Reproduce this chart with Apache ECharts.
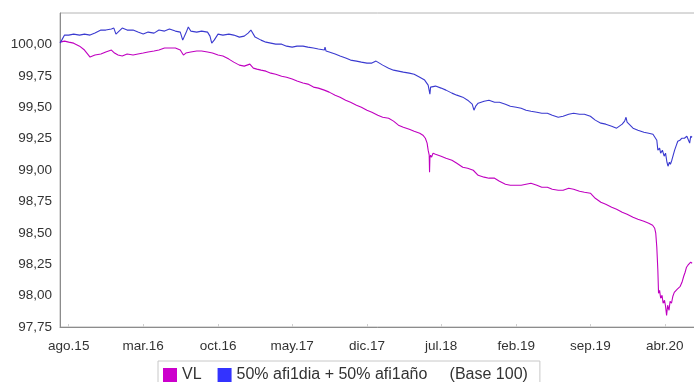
<!DOCTYPE html>
<html>
<head>
<meta charset="utf-8">
<title>VL vs 50% afi1dia + 50% afi1año</title>
<script src="https://cdn.jsdelivr.net/npm/echarts@6/dist/echarts.min.js"></script>
<style>
  html, body { margin: 0; padding: 0; background: #fff; }
  #chart { width: 694px; height: 382px; }
</style>
</head>
<body>
<div id="chart"></div>
<script>
// Net asset value of the fund (base 100)
const vlSeries = [
  ['2015-07-07',100.018],['2015-07-20',100.026],['2015-08-01',100.018],['2015-08-15',100.010],
  ['2015-09-01',99.986],['2015-09-15',99.955],['2015-10-01',99.899],['2015-10-15',99.915],
  ['2015-11-01',99.923],['2015-11-15',99.939],['2015-12-01',99.955],['2015-12-10',99.931],
  ['2015-12-20',99.915],['2016-01-01',99.907],['2016-01-15',99.923],['2016-02-01',99.915],
  ['2016-02-15',99.923],['2016-03-01',99.931],['2016-03-15',99.939],['2016-04-01',99.947],
  ['2016-04-15',99.955],['2016-05-01',99.971],['2016-05-15',99.971],['2016-06-01',99.971],
  ['2016-06-15',99.955],['2016-06-24',99.915],['2016-07-01',99.931],['2016-07-15',99.939],
  ['2016-08-01',99.947],['2016-08-15',99.947],['2016-09-01',99.939],['2016-09-15',99.931],
  ['2016-10-01',99.915],['2016-10-15',99.907],['2016-11-01',99.883],['2016-11-15',99.859],
  ['2016-12-01',99.835],['2016-12-15',99.827],['2016-12-31',99.843],['2017-01-10',99.811],
  ['2017-01-20',99.803],['2017-02-01',99.795],['2017-02-15',99.787],['2017-03-01',99.771],
  ['2017-03-15',99.763],['2017-04-01',99.747],['2017-04-15',99.739],['2017-05-01',99.724],
  ['2017-05-15',99.708],['2017-06-01',99.692],['2017-06-15',99.684],['2017-07-01',99.660],
  ['2017-07-15',99.652],['2017-08-01',99.636],['2017-08-15',99.620],['2017-09-01',99.596],
  ['2017-09-15',99.580],['2017-10-01',99.556],['2017-10-15',99.540],['2017-11-01',99.516],
  ['2017-11-15',99.500],['2017-12-01',99.476],['2017-12-15',99.460],['2018-01-01',99.436],
  ['2018-01-15',99.420],['2018-02-01',99.412],['2018-02-15',99.389],['2018-03-01',99.357],
  ['2018-03-15',99.341],['2018-04-01',99.325],['2018-04-15',99.309],['2018-05-01',99.293],
  ['2018-05-10',99.277],['2018-05-17',99.253],['2018-05-22',99.214],['2018-05-25',99.158],
  ['2018-05-28',99.118],['2018-05-29',98.982],['2018-05-30',99.094],['2018-06-01',99.118],
  ['2018-06-04',99.102],['2018-06-08',99.134],['2018-06-15',99.126],['2018-07-01',99.110],
  ['2018-07-15',99.094],['2018-08-01',99.078],['2018-08-15',99.054],['2018-09-01',99.022],
  ['2018-09-15',99.014],['2018-10-01',98.998],['2018-10-15',98.958],['2018-11-01',98.943],
  ['2018-11-15',98.935],['2018-12-01',98.935],['2018-12-15',98.911],['2019-01-01',98.887],
  ['2019-01-15',98.879],['2019-02-01',98.879],['2019-02-15',98.879],['2019-03-01',98.887],
  ['2019-03-15',98.895],['2019-04-01',98.879],['2019-04-15',98.863],['2019-05-01',98.863],
  ['2019-05-15',98.847],['2019-06-01',98.839],['2019-06-15',98.839],['2019-07-01',98.855],
  ['2019-07-15',98.847],['2019-08-01',98.831],['2019-08-15',98.823],['2019-09-01',98.815],
  ['2019-09-15',98.775],['2019-10-01',98.743],['2019-10-15',98.727],['2019-11-01',98.704],
  ['2019-11-15',98.688],['2019-12-01',98.664],['2019-12-15',98.648],['2020-01-01',98.624],
  ['2020-01-15',98.608],['2020-02-01',98.592],['2020-02-15',98.576],['2020-02-26',98.560],
  ['2020-03-03',98.536],['2020-03-06',98.497],['2020-03-09',98.385],['2020-03-12',98.202],
  ['2020-03-14',98.018],['2020-03-17',98.042],['2020-03-20',97.979],['2020-03-24',98.002],
  ['2020-03-27',97.939],['2020-03-31',97.963],['2020-04-03',97.915],['2020-04-06',97.843],
  ['2020-04-09',97.923],['2020-04-13',97.883],['2020-04-16',97.955],['2020-04-20',97.939],
  ['2020-04-24',97.995],['2020-04-28',98.026],['2020-05-02',98.018],['2020-05-06',98.050],
  ['2020-05-11',98.042],['2020-05-15',98.074],['2020-05-20',98.106],['2020-05-25',98.154],
  ['2020-05-29',98.186],['2020-06-02',98.226],['2020-06-06',98.242],['2020-06-10',98.250],
  ['2020-06-14',98.266],['2020-06-18',98.258]
];

// Benchmark: 50% afi1dia + 50% afi1año (base 100)
const benchSeries = [
  ['2015-07-07',100.010],['2015-07-12',100.034],['2015-07-20',100.074],['2015-08-01',100.074],
  ['2015-08-15',100.082],['2015-09-01',100.074],['2015-09-15',100.082],['2015-10-01',100.074],
  ['2015-10-15',100.090],['2015-11-01',100.114],['2015-11-15',100.114],['2015-12-01',100.122],
  ['2015-12-08',100.130],['2015-12-14',100.082],['2015-12-18',100.074],['2016-01-01',100.130],
  ['2016-01-15',100.114],['2016-02-01',100.114],['2016-02-15',100.098],['2016-03-01',100.082],
  ['2016-03-15',100.098],['2016-04-01',100.090],['2016-04-15',100.114],['2016-05-01',100.106],
  ['2016-05-15',100.122],['2016-06-01',100.106],['2016-06-15',100.098],['2016-06-22',100.034],
  ['2016-07-01',100.090],['2016-07-08',100.138],['2016-07-15',100.106],['2016-08-01',100.098],
  ['2016-08-15',100.106],['2016-09-01',100.098],['2016-09-08',100.066],['2016-09-13',100.010],
  ['2016-09-20',100.034],['2016-10-01',100.082],['2016-10-15',100.074],['2016-11-01',100.082],
  ['2016-11-15',100.074],['2016-12-01',100.058],['2016-12-15',100.066],['2016-12-26',100.090],
  ['2017-01-03',100.114],['2017-01-15',100.058],['2017-02-01',100.034],['2017-02-15',100.018],
  ['2017-03-01',100.010],['2017-03-15',100.002],['2017-04-01',100.002],['2017-04-15',99.986],
  ['2017-05-01',99.978],['2017-05-15',99.986],['2017-06-01',99.986],['2017-06-15',99.978],
  ['2017-07-01',99.971],['2017-07-15',99.963],['2017-08-01',99.955],['2017-08-03',99.978],
  ['2017-08-06',99.947],['2017-08-15',99.939],['2017-09-01',99.923],['2017-09-15',99.907],
  ['2017-10-01',99.891],['2017-10-15',99.875],['2017-11-01',99.867],['2017-11-15',99.859],
  ['2017-12-01',99.851],['2017-12-15',99.851],['2017-12-27',99.867],['2018-01-01',99.875],
  ['2018-01-15',99.835],['2018-02-01',99.811],['2018-02-15',99.795],['2018-03-01',99.787],
  ['2018-03-15',99.779],['2018-04-01',99.771],['2018-04-15',99.763],['2018-05-01',99.739],
  ['2018-05-15',99.716],['2018-05-25',99.676],['2018-05-30',99.604],['2018-06-01',99.660],
  ['2018-06-15',99.668],['2018-07-01',99.652],['2018-07-15',99.636],['2018-08-01',99.612],
  ['2018-08-15',99.596],['2018-09-01',99.580],['2018-09-15',99.556],['2018-09-28',99.524],
  ['2018-10-03',99.476],['2018-10-08',99.508],['2018-10-15',99.532],['2018-11-01',99.548],
  ['2018-11-15',99.556],['2018-12-01',99.540],['2018-12-15',99.540],['2019-01-01',99.524],
  ['2019-01-15',99.508],['2019-02-01',99.500],['2019-02-15',99.492],['2019-03-01',99.476],
  ['2019-03-15',99.468],['2019-04-01',99.460],['2019-04-15',99.452],['2019-05-01',99.452],
  ['2019-05-15',99.436],['2019-06-01',99.420],['2019-06-15',99.428],['2019-07-01',99.444],
  ['2019-07-15',99.452],['2019-08-01',99.444],['2019-08-15',99.444],['2019-09-01',99.428],
  ['2019-09-15',99.397],['2019-10-01',99.373],['2019-10-15',99.365],['2019-11-01',99.349],
  ['2019-11-15',99.333],['2019-12-01',99.365],['2019-12-08',99.389],['2019-12-12',99.420],
  ['2019-12-15',99.381],['2020-01-01',99.333],['2020-01-15',99.317],['2020-02-01',99.301],
  ['2020-02-15',99.293],['2020-02-27',99.285],['2020-03-03',99.277],['2020-03-09',99.237],
  ['2020-03-12',99.158],['2020-03-17',99.174],['2020-03-20',99.134],['2020-03-25',99.158],
  ['2020-03-30',99.110],['2020-04-03',99.134],['2020-04-07',99.062],['2020-04-10',99.030],
  ['2020-04-14',99.062],['2020-04-17',99.046],['2020-04-21',99.078],['2020-04-25',99.118],
  ['2020-04-29',99.158],['2020-05-04',99.198],['2020-05-08',99.229],['2020-05-14',99.237],
  ['2020-05-20',99.253],['2020-05-27',99.253],['2020-06-03',99.269],['2020-06-08',99.261],
  ['2020-06-11',99.214],['2020-06-14',99.269],['2020-06-18',99.261]
];

// Month ticks along the date axis (every seven months)
const xTickDates = ['2015-08-01','2016-03-01','2016-10-01','2017-05-01','2017-12-01',
                    '2018-07-01','2019-02-01','2019-09-01','2020-04-01'];
const monthNames = ['ene','feb','mar','abr','may','jun','jul','ago','sep','oct','nov','dic'];

const seriesNames = ['VL', '50% afi1dia + 50% afi1año'];
const legendSuffix = '(Base 100)';

const FONT = "'Liberation Sans', Arial, Helvetica, sans-serif";

function parseLocal(s) {
  const p = s.split('-').map(Number);
  return new Date(p[0], p[1] - 1, p[2]).getTime();
}
function toPoints(rows) {
  return rows.map(function (r) { return [parseLocal(r[0]), r[1]]; });
}

const tickValues = xTickDates.map(parseLocal);

const chart = echarts.init(document.getElementById('chart'), null, { renderer: 'canvas' });

chart.setOption({
  animation: false,
  backgroundColor: '#ffffff',
  grid: {
    left: 60, top: 13, right: -10, bottom: 55,
    outerBoundsMode: 'none',
    show: true, borderColor: '#b4b4b4', borderWidth: 1, backgroundColor: 'transparent'
  },
  legend: {
    data: seriesNames,
    left: 158, top: 361,
    icon: 'rect', itemWidth: 14, itemHeight: 14, itemGap: 16,
    padding: [6, 12, 6, 5],
    borderColor: '#c8c8c8', borderWidth: 1,
    textStyle: { fontFamily: FONT, fontSize: 16, color: '#333' },
    formatter: function (name) {
      return name === seriesNames[1] ? name + '     ' + legendSuffix : name;
    }
  },
  xAxis: {
    type: 'value',
    min: parseLocal('2015-07-07'),
    max: parseLocal('2020-07-22'),
    axisLine: { show: true, lineStyle: { color: '#8c8c8c', width: 1 } },
    axisTick: { show: true, inside: true, length: 3, customValues: tickValues, lineStyle: { color: '#d0d0d0' } },
    splitLine: { show: false },
    axisLabel: {
      customValues: tickValues,
      margin: 12,
      fontFamily: FONT, fontSize: 13.5, color: '#333',
      formatter: function (v) {
        const d = new Date(v);
        return monthNames[d.getMonth()] + '.' + String(d.getFullYear()).slice(2);
      }
    }
  },
  yAxis: {
    type: 'value',
    min: 97.75, max: 100.25, interval: 0.25,
    axisLine: { show: true, lineStyle: { color: '#8c8c8c', width: 1 } },
    axisTick: { show: false },
    splitLine: { show: false },
    axisLabel: {
      showMaxLabel: false,
      margin: 8,
      fontFamily: FONT, fontSize: 13.5, color: '#333',
      formatter: function (v) { return v.toFixed(2).replace('.', ','); }
    }
  },
  series: [
    {
      name: seriesNames[0], type: 'line', data: toPoints(vlSeries),
      showSymbol: false, symbol: 'none',
      color: '#cc00cc',
      lineStyle: { width: 1.1, color: '#c000c0' }
    },
    {
      name: seriesNames[1], type: 'line', data: toPoints(benchSeries),
      showSymbol: false, symbol: 'none',
      color: '#3333ff',
      lineStyle: { width: 1.1, color: '#3a3ad0' }
    }
  ]
});
</script>
</body>
</html>
